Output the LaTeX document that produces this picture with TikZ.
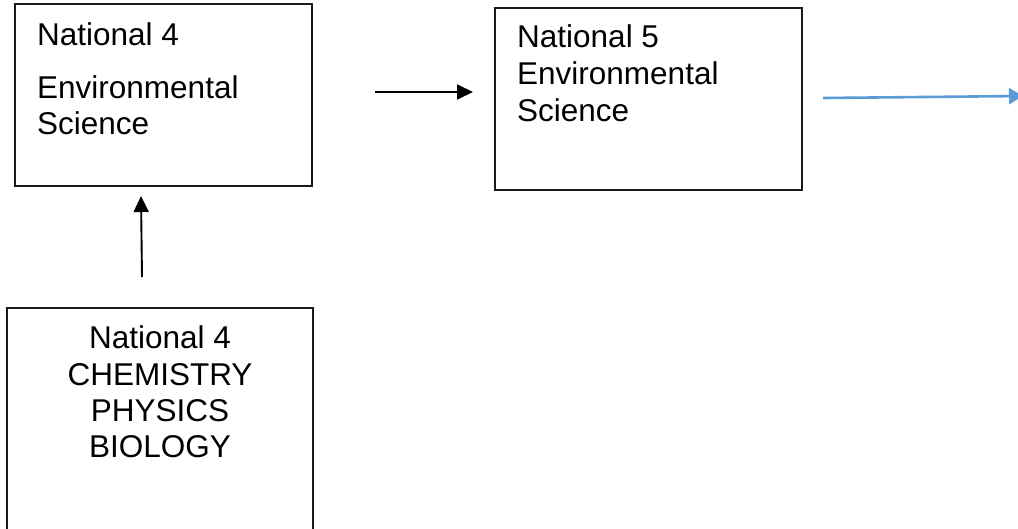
\documentclass[tikz,border=0pt]{standalone}
\usepackage{fontspec}
\setmainfont{Liberation Sans}
\usetikzlibrary{arrows.meta}
\definecolor{flowblue}{HTML}{5B9BD5}
\begin{document}
\begin{tikzpicture}[x=1pt,y=-1pt,
  box/.style={draw=black!90,line width=1.6pt,inner sep=0pt},
  txt/.style={font=\fontsize{31.5}{37}\selectfont,inner sep=0pt,anchor=base west},
  ctxt/.style={font=\fontsize{31.5}{37}\selectfont,inner sep=0pt,anchor=base},
  blackarrow/.style={line width=1.9pt,-{Triangle[length=16pt,width=15pt]}},
  bluearrow/.style={draw=flowblue,line width=2.6pt,-{Triangle[length=14pt,width=16pt]}}]
\clip (0,0) rectangle (1018,528);
\useasboundingbox (0,0) rectangle (1018,528);

% boxes
\draw[box] (15,4) rectangle (312,186) node[pos=0.5,inner sep=0pt] (nfourenv) {};
\draw[box] (495,8) rectangle (802,190) node[pos=0.5,inner sep=0pt] (nfive) {};
\draw[box] (7,308) rectangle (313,545) node[pos=0.5,inner sep=0pt] (nfoursci) {};

% texts
\node[txt] (a1) at (37,45) {National 4};
\node[txt] (a2) at (37,98) {Environmental};
\node[txt] (a3) at (37,134) {Science};

\node[txt] (b1) at (517,47) {National 5};
\node[txt] (b2) at (517,84) {Environmental};
\node[txt] (b3) at (517,121) {Science};

\node[ctxt] (c1) at (160,348) {National 4};
\node[ctxt] (c2) at (160,385) {CHEMISTRY};
\node[ctxt] (c3) at (160,421) {PHYSICS};
\node[ctxt] (c4) at (160,457) {BIOLOGY};

% connectors
\coordinate (h1s) at (375,92);
\coordinate (h1e) at (473,92);
\coordinate (h2s) at (823,98);
\coordinate (h2e) at (1023,96);
\coordinate (v1s) at (142,277);
\coordinate (v1e) at (141,196);
\draw[blackarrow] (h1s) -- (h1e);
\draw[bluearrow] (h2s) -- (h2e);
\draw[blackarrow] (v1s) -- (v1e);
\end{tikzpicture}
\end{document}
